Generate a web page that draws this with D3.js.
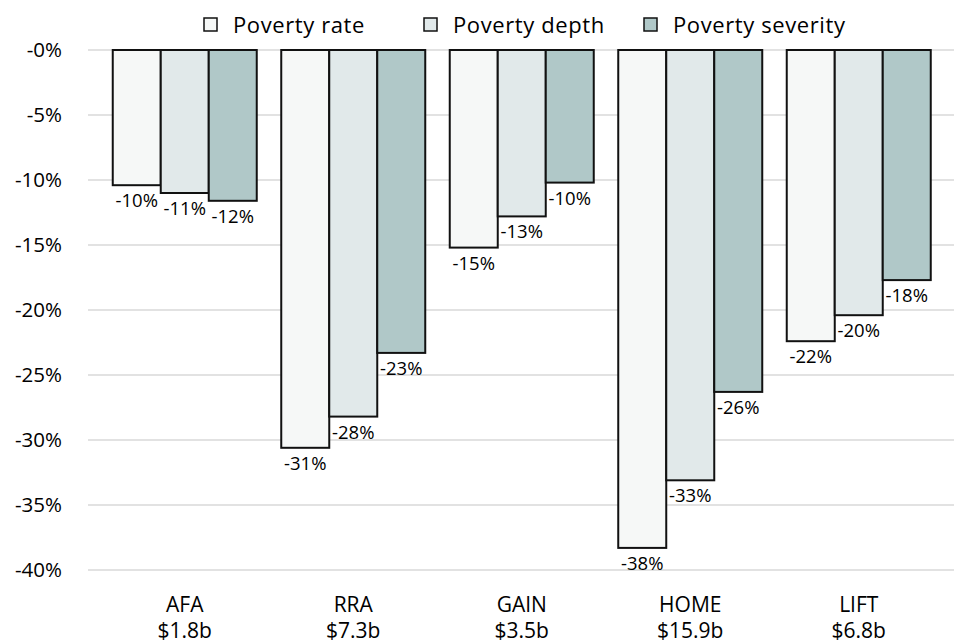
<!DOCTYPE html>
<html>
<head>
<meta charset="utf-8">
<script src="https://cdn.jsdelivr.net/npm/d3@7"></script>
<style>
  html, body { margin: 0; padding: 0; background: #fff; }
  svg { display: block; font-family: "Open Sans", Lato, sans-serif; }
</style>
</head>
<body>
<svg id="chart" width="954" height="643"></svg>
<script>
// Programmes and their cost
const programs = ["AFA", "RRA", "GAIN", "HOME", "LIFT"];
const costs = ["$1.8b", "$7.3b", "$3.5b", "$15.9b", "$6.8b"];

// Change in poverty measures (%)
const series = ["Poverty rate", "Poverty depth", "Poverty severity"];
const povertyRate = [-10.4, -30.6, -15.2, -38.3, -22.4];
const povertyDepth = [-11.0, -28.2, -12.8, -33.1, -20.4];
const povertySeverity = [-11.6, -23.3, -10.2, -26.3, -17.7];

const yTicks = [0, -5, -10, -15, -20, -25, -30, -35, -40];

const seriesValues = [povertyRate, povertyDepth, povertySeverity];
const colors = ["#f6f8f7", "#e1e9ea", "#b0c8c8"];

// Percent label with a plain hyphen for the sign
const pct = v => (v < 0 ? "-" : "") + Math.round(Math.abs(v)) + "%";

const svg = d3.select("#chart");

const y = d3.scaleLinear().domain([0, -40]).range([50, 570]);

const x = d3.scaleBand()
  .domain(programs)
  .range([100.5, 943])
  .paddingInner(0.1454)
  .paddingOuter(0.0727);

const xs = d3.scaleBand()
  .domain(series)
  .range([0, x.bandwidth()]);

// Gridlines
svg.append("g")
  .selectAll("line")
  .data(yTicks)
  .join("line")
  .attr("x1", 88)
  .attr("x2", 954)
  .attr("y1", d => y(d))
  .attr("y2", d => y(d))
  .attr("stroke", "#d9d9d9")
  .attr("stroke-width", 1.5);

// Y axis labels
const yAxis = svg.append("g")
  .attr("transform", "translate(62,0)")
  .call(d3.axisLeft(y).tickValues(yTicks).tickSize(0).tickPadding(0)
    .tickFormat(d => "-" + Math.abs(d) + "%"));
yAxis.select(".domain").remove();
yAxis.selectAll("text")
  .attr("font-family", "'Open Sans', sans-serif")
  .attr("font-size", 20.5)
  .attr("fill", "#000");

// Bars
const rows = programs.map((p, i) => ({
  program: p,
  values: series.map((s, j) => ({ series: s, idx: j, value: seriesValues[j][i] }))
}));

const groups = svg.append("g")
  .selectAll("g")
  .data(rows)
  .join("g")
  .attr("transform", d => `translate(${x(d.program)},0)`);

groups.selectAll("rect")
  .data(d => d.values)
  .join("rect")
  .attr("x", d => xs(d.series))
  .attr("y", y(0))
  .attr("width", xs.bandwidth())
  .attr("height", d => y(d.value) - y(0))
  .attr("fill", d => colors[d.idx])
  .attr("stroke", "#111")
  .attr("stroke-width", 2);

groups.selectAll("text.val")
  .data(d => d.values)
  .join("text")
  .attr("class", "val")
  .attr("x", d => xs(d.series) + xs.bandwidth() / 2)
  .attr("y", d => y(d.value) + 22)
  .attr("text-anchor", "middle")
  .attr("font-size", 18.5)
  .attr("fill", "#000")
  .text(d => pct(d.value));

// Category labels
const cat = svg.append("g")
  .selectAll("text")
  .data(programs)
  .join("text")
  .attr("text-anchor", "middle")
  .attr("font-size", 21)
  .attr("fill", "#000");
cat.append("tspan").attr("x", d => x(d) + x.bandwidth() / 2).attr("y", 612).text(d => d);
cat.append("tspan").attr("x", d => x(d) + x.bandwidth() / 2).attr("y", 638)
  .text((d, i) => costs[i]);

// Legend
const legendX = [204, 424, 644];
const legend = svg.append("g")
  .selectAll("g")
  .data(series)
  .join("g")
  .attr("transform", (d, i) => `translate(${legendX[i]},18)`);
legend.append("rect")
  .attr("width", 13).attr("height", 13)
  .attr("fill", (d, i) => colors[i])
  .attr("stroke", "#111").attr("stroke-width", 1.5);
legend.append("text")
  .attr("x", 29).attr("y", 15)
  .attr("font-size", 22)
  .attr("letter-spacing", 0.6)
  .attr("fill", "#000")
  .text(d => d);
</script>
</body>
</html>
